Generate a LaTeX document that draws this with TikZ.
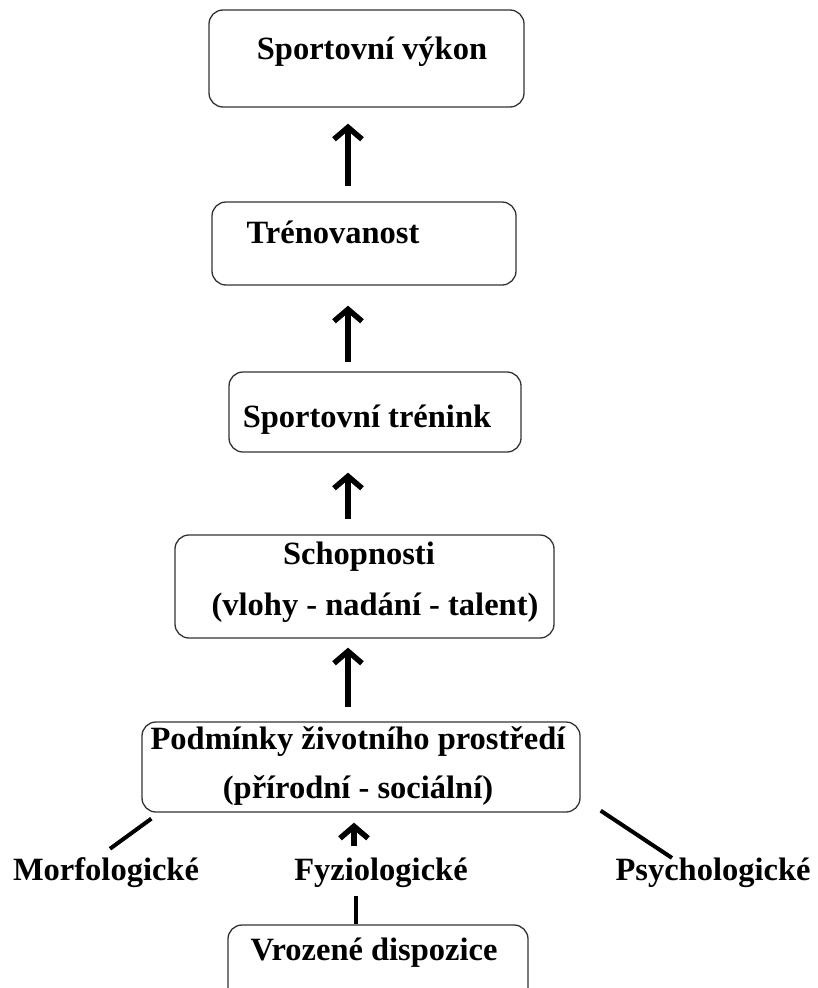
\documentclass[tikz,border=0pt]{standalone}
\usepackage{fontspec}
\setmainfont{Liberation Serif}
\usetikzlibrary{arrows.meta,calc}
\begin{document}
\begin{tikzpicture}[x=1pt,y=-1pt,
 box/.style={draw=black!80, line width=1.3pt, rounded corners=14pt, inner sep=0pt},
 txt/.style={inner sep=0pt, font=\fontsize{32.5}{38}\selectfont\bfseries},
 up/.style={line width=5.5pt, -{Straight Barb[length=12pt,width=28pt,line width=5.5pt]}},
 link/.style={line width=4pt}]
\useasboundingbox (0,0) rectangle (818,988);
% boxes
\node[box, minimum width=315pt, minimum height=97pt] (b1) at (366.5,58.5) {};
\node[box, minimum width=304pt, minimum height=83pt] (b2) at (364,243.5) {};
\node[box, minimum width=292pt, minimum height=80pt] (b3) at (375,412) {};
\node[box, minimum width=379pt, minimum height=103pt] (b4) at (364.5,586.5) {};
\node[box, minimum width=438pt, minimum height=90pt] (b5) at (361,767) {};
\node[box, minimum width=300pt, minimum height=90pt] (b6) at (378,970) {};
% texts
\node[txt] (t1) at (372,52) {Sportovní výkon};
\node[txt] (t2) at (333,232) {Trénovanost};
\node[txt] (t3) at (367,420) {Sportovní trénink};
\node[txt] (t4a) at (359,557) {Schopnosti};
\node[txt] (t4b) at (375,608) {(vlohy - nadání - talent)};
\node[txt] (t5a) at (358,742) {Podmínky životního prostředí};
\node[txt] (t5b) at (358,790) {(přírodní - sociální)};
\node[txt] (t6) at (374,953) {Vrozené dispozice};
\node[txt] (mo) at (106,873) {Morfologické};
\node[txt] (fy) at (381,873) {Fyziologické};
\node[txt] (ps) at (713,873) {Psychologické};
% arrows
\coordinate (ax) at (348,0);
\coordinate (bx) at (354,0);
\coordinate (cx) at (356,0);
\draw[up, shorten <=15pt, shorten >=16pt] (b2.north -| ax) -- (b1.south -| ax);
\draw[up, shorten <=9pt, shorten >=20pt] (b3.north -| ax) -- (b2.south -| ax);
\draw[up, shorten <=15pt, shorten >=20pt] (b4.north -| ax) -- (b3.south -| ax);
\draw[up, shorten <=14pt, shorten >=9pt] (b5.north -| ax) -- (b4.south -| ax);
\draw[up, shorten <=12pt, shorten >=10pt] (fy.north -| bx) -- (b5.south -| bx);
\draw[link, shorten <=8pt] (fy.south -| cx) -- (b6.north -| cx);
\draw[link] ($(b5.south west)+(10,6)$) -- ($(mo.north)+(4,-9)$);
\draw[link] ($(b5.south east)+(20,-2)$) -- ($(ps.north)+(-41,0)$);
\end{tikzpicture}
\end{document}
